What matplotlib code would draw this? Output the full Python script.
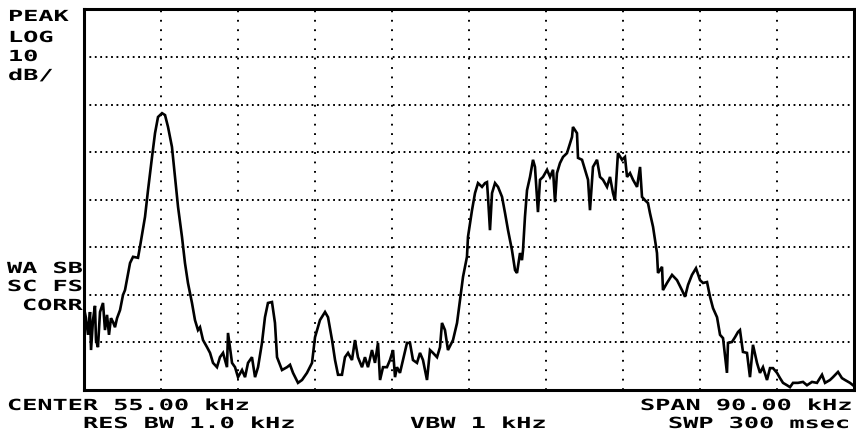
import matplotlib
matplotlib.use("Agg")
import matplotlib.pyplot as plt
from matplotlib.patheffects import AbstractPathEffect
from matplotlib.transforms import Affine2D

freq_khz = [
    10.06, 10.29, 10.53, 10.76, 10.88, 11.11, 11.34, 11.46, 11.69, 11.93,
    12.28, 12.51, 12.75, 12.98, 13.21, 13.45, 13.68, 13.92, 14.27, 14.62,
    14.85, 15.44, 15.79, 16.37, 16.60, 17.19, 17.54, 18.01, 18.36, 18.71,
    19.18, 19.53, 19.88, 20.34, 20.69, 21.05, 21.51, 21.86, 22.21, 22.68,
    23.03, 23.38, 23.62, 23.97, 24.44, 24.79, 25.14, 25.60, 25.95, 26.31,
    26.77, 26.89, 27.36, 27.71, 28.06, 28.53, 28.88, 29.23, 29.69, 30.05,
    30.40, 30.86, 31.21, 31.56, 32.03, 32.38, 32.62, 33.20, 33.79, 34.14,
    34.49, 35.07, 35.54, 36.12, 36.71, 37.06, 37.64, 38.23, 38.58, 39.05,
    39.40, 39.75, 40.21, 40.56, 40.92, 41.38, 41.73, 42.08, 42.55, 42.90,
    43.25, 43.72, 44.07, 44.42, 44.66, 45.01, 45.47, 45.82, 46.18, 46.41,
    46.64, 46.99, 47.34, 47.81, 48.16, 48.51, 48.98, 49.33, 49.68, 50.15,
    50.50, 50.85, 51.32, 51.67, 51.90, 52.25, 52.60, 53.19, 53.66, 54.01,
    54.36, 54.82, 54.94, 55.41, 55.76, 56.11, 56.58, 56.93, 57.16, 57.28,
    57.51, 57.75, 58.10, 58.45, 58.92, 59.27, 59.62, 60.08, 60.44, 60.67,
    61.02, 61.25, 61.37, 61.60, 61.84, 62.19, 62.54, 62.77, 63.12, 63.36,
    63.71, 64.18, 64.53, 64.88, 65.11, 65.34, 65.69, 66.05, 66.51, 66.63,
    67.10, 67.21, 67.68, 67.80, 68.27, 68.62, 68.97, 69.20, 69.55, 70.02,
    70.37, 70.72, 71.19, 71.54, 71.89, 72.12, 72.47, 72.94, 73.29, 73.53,
    73.88, 74.23, 74.70, 75.05, 75.28, 75.63, 75.98, 76.21, 76.57, 77.03,
    77.15, 77.62, 77.73, 78.20, 78.79, 79.37, 79.95, 80.31, 80.66, 81.12,
    81.59, 82.06, 82.41, 82.88, 83.23, 83.58, 84.05, 84.40, 84.75, 85.21,
    85.33, 85.80, 86.15, 86.50, 86.73, 87.08, 87.55, 87.90, 88.25, 88.72,
    89.07, 89.42, 89.89, 90.24, 90.59, 91.06, 91.41, 91.76, 92.23, 92.58,
    92.93, 93.51, 94.10, 94.56, 95.15, 95.73, 96.32, 96.67, 97.25, 97.60,
    98.19, 98.65, 99.01, 99.59, 99.94,
]
level_db = [
    -62.8, -64.9, -68.4, -63.6, -71.6, -65.3, -62.3, -69.5, -71.0, -63.6,
    -61.7, -67.4, -64.2, -68.4, -64.9, -65.7, -66.8, -64.9, -63.2, -60.0,
    -59.0, -53.3, -52.0, -52.2, -49.9, -43.6, -38.0, -31.0, -26.0, -22.6,
    -21.8, -22.2, -24.7, -28.9, -35.2, -41.5, -47.8, -53.3, -57.5, -61.7,
    -65.3, -67.4, -66.8, -69.5, -71.0, -72.2, -74.3, -75.2, -73.1, -72.2,
    -75.2, -68.0, -74.3, -75.2, -77.3, -75.8, -77.3, -74.3, -73.1, -77.3,
    -75.2, -70.1, -64.7, -61.7, -61.5, -65.9, -73.1, -75.8, -75.2, -74.7,
    -76.4, -78.5, -77.9, -76.4, -74.3, -68.9, -65.3, -63.6, -64.7, -69.5,
    -73.7, -76.8, -76.8, -73.1, -72.2, -73.7, -69.5, -73.1, -75.2, -73.1,
    -75.2, -71.6, -74.3, -70.1, -77.9, -75.2, -75.2, -73.7, -71.6, -77.3,
    -75.2, -76.4, -73.7, -70.1, -70.1, -73.7, -74.3, -72.2, -73.7, -77.9,
    -71.6, -72.2, -73.1, -71.0, -65.9, -67.4, -71.6, -69.5, -65.9, -61.1,
    -56.2, -52.0, -47.8, -42.2, -38.6, -36.5, -37.3, -36.5, -36.3, -39.4,
    -46.4, -38.6, -36.5, -37.3, -39.4, -42.8, -46.4, -50.6, -54.8, -55.4,
    -51.2, -52.7, -50.6, -43.6, -38.0, -35.2, -31.6, -33.1, -42.6, -35.8,
    -35.2, -33.7, -35.2, -33.7, -40.5, -34.4, -32.3, -31.0, -30.2, -29.5,
    -26.8, -24.7, -26.0, -31.2, -31.6, -33.7, -35.8, -42.2, -33.1, -31.6,
    -35.2, -35.8, -37.3, -35.2, -38.6, -40.1, -30.2, -31.6, -31.0, -35.2,
    -34.4, -35.8, -37.3, -33.1, -39.4, -40.1, -40.7, -42.8, -45.7, -51.2,
    -55.4, -54.1, -59.0, -57.5, -55.8, -56.9, -59.0, -60.4, -57.9, -55.8,
    -54.4, -56.9, -57.5, -57.3, -60.4, -62.8, -64.7, -68.4, -69.1, -76.4,
    -70.1, -69.9, -68.9, -67.8, -67.4, -72.0, -72.2, -77.3, -70.5, -74.3,
    -76.4, -75.2, -77.9, -75.4, -75.4, -76.4, -77.5, -78.5, -79.0, -79.4,
    -78.5, -78.5, -78.3, -79.0, -78.3, -78.5, -76.8, -78.5, -77.9, -77.3,
    -76.2, -77.5, -77.9, -78.5, -79.0,
]

start_khz, stop_khz = 10.0, 100.0
ref_db, bottom_db = 0.0, -80.0
x_divisions = 10
y_divisions = 8

top_left_labels = ["PEAK", "LOG", "10", "dB/"]
side_labels = ["WA SB", "SC FS", "CORR"]
bottom_row1 = ["CENTER 55.00 kHz", "SPAN 90.00 kHz"]
bottom_row2 = ["RES BW 1.0 kHz", "VBW 1 kHz", "SWP 300 msec"]

# ---------------- figure ----------------
plt.rcParams["lines.scale_dashes"] = False
W, H = 856, 436
fig = plt.figure(figsize=(W / 100, H / 100), dpi=100)
fig.patch.set_facecolor("white")

ax_l, ax_r, ax_t, ax_b = 83.5, 853.5, 9.5, 390.0
ax = fig.add_axes([ax_l / W, 1 - ax_b / H, (ax_r - ax_l) / W, (ax_b - ax_t) / H])
ax.set_xlim(start_khz, stop_khz)
ax.set_ylim(bottom_db, ref_db)
ax.set_xticks([])
ax.set_yticks([])
for s in ax.spines.values():
    s.set_linewidth(2.2)
    s.set_color("black")

xstep = (stop_khz - start_khz) / x_divisions
ystep = (ref_db - bottom_db) / y_divisions
for i in range(1, x_divisions):
    ax.axvline(start_khz + i * xstep, color="black", lw=1.4,
               linestyle=(0, (1.3, 5.5)), zorder=1)
for j in range(1, y_divisions):
    ax.axhline(bottom_db + j * ystep, color="black", lw=1.4,
               linestyle=(0, (1.3, 2.6)), zorder=1)

ax.plot(freq_khz, level_db, color="black", lw=1.9, zorder=3,
        solid_joinstyle="miter")


# ---------------- screen annotations ----------------
class HStretch(AbstractPathEffect):
    """Stretch glyphs horizontally like the analyzer's wide bitmap font."""
    def __init__(self, sx):
        super().__init__()
        self._sx = sx

    def draw_path(self, renderer, gc, tpath, affine, rgbFace=None):
        renderer.draw_path(gc, tpath, Affine2D().scale(self._sx, 1.0) + affine, rgbFace)


font = dict(family="DejaVu Sans Mono", weight="bold", size=11, color="black",
            ha="left", va="baseline", path_effects=[HStretch(1.65)])


def put(text, px, py):
    fig.text(px / W, 1 - py / H, text, **font)


for lab, by in zip(top_left_labels, [21, 42, 61, 80]):
    put(lab, 8, by)
for lab, (lx, by) in zip(side_labels, [(7, 273), (7, 291), (22, 310)]):
    put(lab, lx, by)
for lab, lx in zip(bottom_row1, [7, 640]):
    put(lab, lx, 410)
for lab, lx in zip(bottom_row2, [83, 410, 668]):
    put(lab, lx, 428)

fig.savefig("out.png", dpi=100, facecolor="white")
